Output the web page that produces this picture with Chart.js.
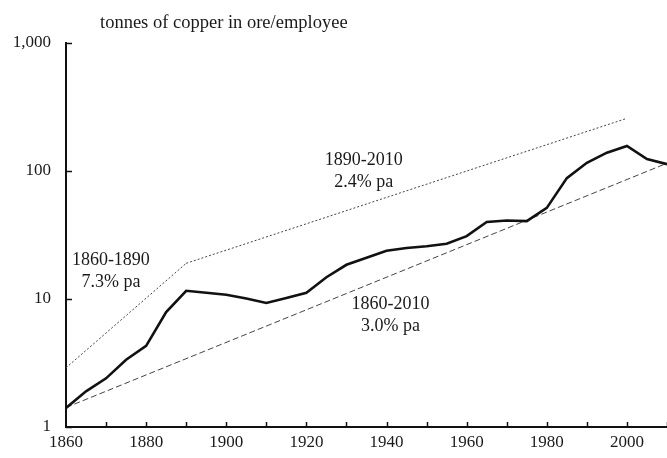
<!DOCTYPE html>
<html><head><meta charset="utf-8">
<script src="https://cdn.jsdelivr.net/npm/chart.js@4"></script>
<style>html,body{margin:0;padding:0;background:#fff}#wrap{width:667px;height:458px}</style>
</head><body><div id="wrap"><canvas id="c"></canvas></div>
<script>
const years = [1860,1865,1870,1875,1880,1885,1890,1895,1900,1905,1910,1915,1920,1925,1930,1935,1940,1945,1950,1955,1960,1965,1970,1975,1980,1985,1990,1995,2000,2005,2010];
const output = [1.41,1.9,2.4,3.35,4.3,7.9,11.6,11.2,10.8,10.1,9.3,10.2,11.2,14.8,18.5,21,23.8,25,25.8,27,31,40,41,40.6,51.5,88,116,139,157,124,113];
const trend1860_1890 = [{x:1860,y:2.9},{x:1890,y:19}];
const trend1890_2010 = [{x:1890,y:19},{x:2000,y:258}];
const trend1860_2010 = [{x:1860,y:1.42},{x:2010,y:115}];
const yTicks = [1,10,100,1000];
const xTickLabels = [1860,1880,1900,1920,1940,1960,1980,2000];
const annotations = [
  {x:1871.2, y:20, lines:["1860-1890","7.3% pa"]},
  {x:1934.3, y:122, lines:["1890-2010","2.4% pa"]},
  {x:1941, y:9.1, lines:["1860-2010","3.0% pa"]}
];
const titleText = "tonnes of copper in ore/employee";

const FONT = "'Liberation Serif', 'Times New Roman', serif";
const TXT = '#1a1a1a';

const deco = {
  id:'deco',
  afterDraw(chart){
    const ctx = chart.ctx, xs = chart.scales.x, ys = chart.scales.y, ca = chart.chartArea;
    ctx.save();
    ctx.strokeStyle = '#111'; ctx.lineWidth = 1.5;
    for (let yr = 1870; yr <= 2010; yr += 10){
      const px = Math.round(xs.getPixelForValue(yr)) + 0.5;
      ctx.beginPath(); ctx.moveTo(px, ca.bottom); ctx.lineTo(px, ca.bottom - 5); ctx.stroke();
    }
    for (const v of yTicks){
      const py = Math.round(ys.getPixelForValue(v)) + 0.5;
      ctx.beginPath(); ctx.moveTo(ca.left, py); ctx.lineTo(ca.left + 6, py); ctx.stroke();
    }
    ctx.fillStyle = TXT;
    ctx.font = "18px " + FONT;
    ctx.textAlign = 'center'; ctx.textBaseline = 'middle';
    for (const a of annotations){
      const px = xs.getPixelForValue(a.x), py = ys.getPixelForValue(a.y);
      a.lines.forEach((l,i)=> ctx.fillText(l, px, py + i*22));
    }
    ctx.textAlign = 'left';
    ctx.font = "18.5px " + FONT;
    ctx.fillText(titleText, 100, 23);
    ctx.restore();
  }
};

new Chart(document.getElementById('c'), {
  type:'line',
  data:{
    datasets:[
      {data: years.map((y,i)=>({x:y, y:output[i]})), borderColor:'#111', borderWidth:2.6, pointRadius:0, tension:0, order:0},
      {data: trend1860_1890, borderColor:'#444', borderWidth:1, borderDash:[2,2], pointRadius:0},
      {data: trend1890_2010, borderColor:'#444', borderWidth:1, borderDash:[2,2], pointRadius:0},
      {data: trend1860_2010, borderColor:'#444', borderWidth:1, borderDash:[6,3], pointRadius:0}
    ]
  },
  options:{
    responsive:true, maintainAspectRatio:false, animation:false,
    layout:{padding:{top:43,right:0,left:0,bottom:0}},
    plugins:{legend:{display:false}, tooltip:{enabled:false}},
    scales:{
      x:{
        type:'linear', min:1860, max:2010,
        afterFit(s){ s.height = 31; },
        afterBuildTicks(s){ s.ticks = xTickLabels.map(v=>({value:v})); },
        grid:{display:true, drawOnChartArea:false, drawTicks:false},
        border:{display:true, color:'#111', width:2},
        ticks:{padding:5, color:TXT, font:{family:FONT, size:17}, maxRotation:0, autoSkip:false, callback:v=>String(v)}
      },
      y:{
        type:'logarithmic', min:1, max:1000,
        afterFit(s){ s.width = 66; },
        afterBuildTicks(s){ s.ticks = yTicks.map(v=>({value:v})); },
        grid:{display:true, drawOnChartArea:false, drawTicks:false},
        border:{display:true, color:'#111', width:2},
        ticks:{padding:15, color:TXT, font:{family:FONT, size:17}, autoSkip:false, callback:v=>v.toLocaleString('en-US')}
      }
    }
  },
  plugins:[deco]
});
</script></body></html>
